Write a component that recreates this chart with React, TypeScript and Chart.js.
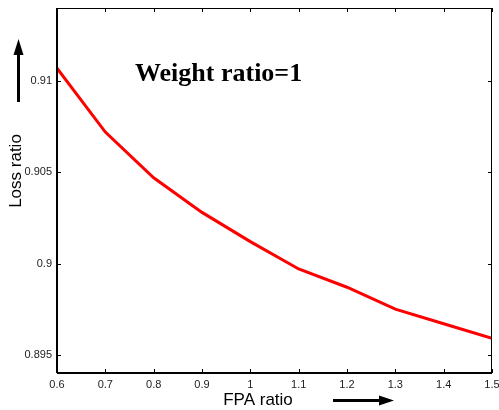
import React, { useEffect, useRef } from "react";
import { Chart, registerables } from "chart.js";

Chart.register(...registerables);

const fpaRatio = [0.6, 0.7, 0.8, 0.9, 1.0, 1.1, 1.2, 1.3, 1.4, 1.5];
const lossRatio = [0.9107, 0.9072, 0.9047, 0.9028, 0.9012, 0.8997, 0.8987, 0.8975, 0.8967, 0.8959];
const xTicks = [0.6, 0.7, 0.8, 0.9, 1.0, 1.1, 1.2, 1.3, 1.4, 1.5];
const yTicks = [0.895, 0.9, 0.905, 0.91];
const titleText = "Weight ratio=1";
const xTitle = "FPA ratio";
const yTitle = "Loss ratio";

const decorPlugin = {
  id: "decor",
  afterDraw(chart: any) {
    const { ctx, chartArea: a } = chart;
    const xs = chart.scales.x;
    const ys = chart.scales.y;
    ctx.save();
    // frame
    ctx.strokeStyle = "#000";
    ctx.lineWidth = 1;
    ctx.beginPath();
    ctx.moveTo(a.left, a.top + 0.5);
    ctx.lineTo(a.right, a.top + 0.5);
    ctx.moveTo(a.right - 0.5, a.top);
    ctx.lineTo(a.right - 0.5, a.bottom);
    ctx.stroke();
    ctx.lineWidth = 2;
    ctx.beginPath();
    ctx.moveTo(a.left, a.bottom);
    ctx.lineTo(a.right, a.bottom);
    ctx.moveTo(a.left, a.top);
    ctx.lineTo(a.left, a.bottom);
    ctx.stroke();
    // inward ticks
    ctx.lineWidth = 1;
    ctx.beginPath();
    xTicks.forEach((v) => {
      const px = Math.round(xs.getPixelForValue(v)) + 0.5;
      ctx.moveTo(px, a.bottom);
      ctx.lineTo(px, a.bottom - 4);
      ctx.moveTo(px, a.top);
      ctx.lineTo(px, a.top + 4);
    });
    yTicks.forEach((v) => {
      const py = Math.round(ys.getPixelForValue(v)) + 0.5;
      ctx.moveTo(a.left, py);
      ctx.lineTo(a.left + 4, py);
      ctx.moveTo(a.right, py);
      ctx.lineTo(a.right - 4, py);
    });
    ctx.stroke();
    // title text
    ctx.fillStyle = "#000";
    ctx.font = "bold 26px 'Liberation Serif', 'Times New Roman', serif";
    ctx.textAlign = "left";
    ctx.textBaseline = "alphabetic";
    ctx.fillText(titleText, 135, 81);
    // axis titles
    ctx.font = "17px 'Liberation Sans', Arial, sans-serif";
    ctx.textAlign = "center";
    ctx.fillText(xTitle, 258, 405);
    ctx.save();
    ctx.translate(21, 171);
    ctx.rotate(-Math.PI / 2);
    ctx.fillText(yTitle, 0, 0);
    ctx.restore();
    // arrows
    ctx.lineWidth = 3;
    ctx.beginPath();
    ctx.moveTo(18.5, 102);
    ctx.lineTo(18.5, 52);
    ctx.stroke();
    ctx.beginPath();
    ctx.moveTo(18.5, 39);
    ctx.lineTo(23.5, 55);
    ctx.lineTo(13.5, 55);
    ctx.closePath();
    ctx.fill();
    ctx.beginPath();
    ctx.moveTo(333, 400.5);
    ctx.lineTo(384, 400.5);
    ctx.stroke();
    ctx.beginPath();
    ctx.moveTo(394, 400.5);
    ctx.lineTo(379, 395.5);
    ctx.lineTo(379, 405.5);
    ctx.closePath();
    ctx.fill();
    ctx.restore();
  },
};

export default function App() {
  const ref = useRef<HTMLCanvasElement | null>(null);
  useEffect(() => {
    if (!ref.current) return;
    const chart = new Chart(ref.current, {
      type: "line",
      data: {
        datasets: [
          {
            data: fpaRatio.map((x, i) => ({ x, y: lossRatio[i] })),
            borderColor: "#ff0000",
            borderWidth: 3,
            pointRadius: 0,
            tension: 0,
            fill: false,
          },
        ],
      },
      options: {
        animation: false,
        responsive: false,
        layout: { padding: { top: 8, right: 7, left: 0, bottom: 0 } },
        plugins: { legend: { display: false }, tooltip: { enabled: false } },
        scales: {
          x: {
            type: "linear",
            min: 0.6,
            max: 1.5,
            grid: { display: false, drawTicks: false },
            border: { display: false },
            afterBuildTicks: (s: any) => {
              s.ticks = xTicks.map((v) => ({ value: v }));
            },
            afterFit: (s: any) => {
              s.height = 37;
              s.paddingLeft = 0;
              s.paddingRight = 0;
            },
            ticks: {
              padding: 5,
              color: "#222",
              font: { family: "'Liberation Sans', Arial, sans-serif", size: 11 },
              maxRotation: 0,
              callback: (v: any) => String(Math.round(Number(v) * 10) / 10),
            },
          },
          y: {
            type: "linear",
            min: 0.894,
            max: 0.914,
            grid: { display: false, drawTicks: false },
            border: { display: false },
            afterBuildTicks: (s: any) => {
              s.ticks = yTicks.map((v) => ({ value: v }));
            },
            afterFit: (s: any) => {
              s.width = 57;
              s.paddingTop = 0;
              s.paddingBottom = 0;
            },
            ticks: {
              padding: 5,
              color: "#222",
              font: { family: "'Liberation Sans', Arial, sans-serif", size: 11 },
              callback: (v: any) => String(Math.round(Number(v) * 1000) / 1000),
            },
          },
        },
      },
      plugins: [decorPlugin],
    });
    return () => chart.destroy();
  }, []);
  return (
    <div style={{ position: "absolute", left: 0, top: 0, width: 499, height: 410, background: "#fff" }}>
      <canvas ref={ref} width={499} height={410} style={{ display: "block" }} />
    </div>
  );
}
